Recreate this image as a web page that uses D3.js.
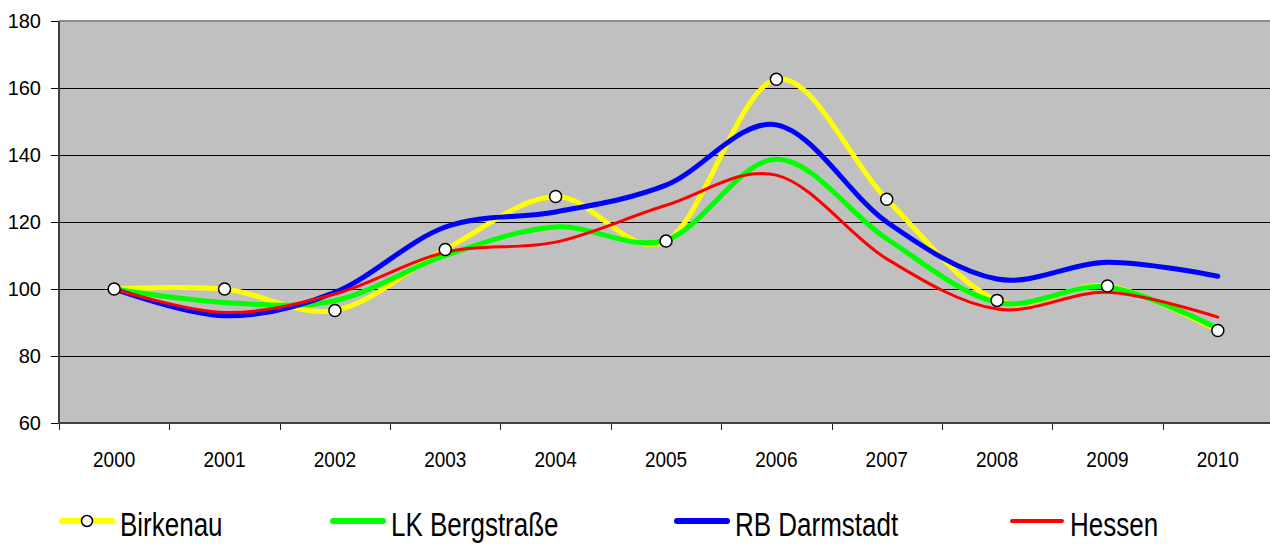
<!DOCTYPE html>
<html>
<head>
<meta charset="utf-8">
<script src="https://cdn.jsdelivr.net/npm/d3@7"></script>
<style>
  body { margin: 0; background: #fff; }
  text { font-family: "Liberation Sans", Arial, sans-serif; fill: #000; }
</style>
</head>
<body>
<script>
// daten
var years = ["2000", "2001", "2002", "2003", "2004", "2005", "2006", "2007", "2008", "2009", "2010"];
var birkenau = [100, 100, 93.6, 111.8, 127.6, 114.3, 162.6, 126.8, 96.6, 100.9, 87.6];
var lkBergstrasse = [100, 96, 96.5, 110, 118.5, 114.6, 138.7, 115, 96, 100.6, 88.2];
var rbDarmstadt = [100, 92, 99, 118.5, 123, 131, 149, 120, 103, 108, 103.8];
var hessen = [100, 93, 98.5, 111, 114, 125, 134, 109, 94, 99, 91.6];
var yTicks = [60, 80, 100, 120, 140, 160, 180];

var series = [
  { name: "Birkenau", values: birkenau, color: "#ffff00", width: 5, markers: true },
  { name: "LK Bergstraße", values: lkBergstrasse, color: "#00ff00", width: 5 },
  { name: "RB Darmstadt", values: rbDarmstadt, color: "#0000ff", width: 5 },
  { name: "Hessen", values: hessen, color: "#ff0000", width: 3 }
];

var pLeft = 59, pRight = 1273, pTop = 21, pBottom = 423;

var svg = d3.select("body").append("svg")
  .attr("width", 1270)
  .attr("height", 544);

// skalen
var xi = d3.scaleLinear().domain([0, years.length]).range([pLeft, pRight]);
var x = function (i) { return xi(i + 0.5); };
var y = d3.scaleLinear().domain([60, 180]).range([pBottom, pTop]);

// plotfläche
svg.append("rect")
  .attr("x", pLeft).attr("y", pTop)
  .attr("width", pRight - pLeft).attr("height", pBottom - pTop)
  .style("fill", "#c0c0c0");

// gitterlinien
svg.append("g").selectAll("line")
  .data(yTicks.filter(function (d) { return d > 60 && d < 180; }))
  .enter().append("line")
  .attr("x1", pLeft).attr("x2", pRight)
  .attr("y1", function (d) { return y(d); })
  .attr("y2", function (d) { return y(d); })
  .style("stroke", "#000").style("stroke-width", 1)
  .style("shape-rendering", "crispEdges");

// oberer rand
svg.append("line")
  .attr("x1", pLeft).attr("x2", pRight)
  .attr("y1", pTop).attr("y2", pTop)
  .style("stroke", "#8a8a8a").style("stroke-width", 2);

// y-achse
var yAxis = svg.append("g")
  .attr("transform", "translate(" + pLeft + ",0)")
  .call(d3.axisLeft(y).tickValues(yTicks).tickSize(8).tickPadding(10));
yAxis.select(".domain").remove();
yAxis.selectAll(".tick line").style("stroke", "#000").style("shape-rendering", "crispEdges");
yAxis.selectAll(".tick text")
  .style("font-size", "20px")
  .attr("font-family", null);

// x-achse (striche an den grenzen)
var xAxis = svg.append("g")
  .attr("transform", "translate(0," + pBottom + ")")
  .call(d3.axisBottom(xi).tickValues(d3.range(years.length + 1)).tickSize(7).tickFormat(""));
xAxis.select(".domain").remove();
xAxis.selectAll(".tick line").style("stroke", "#222").style("shape-rendering", "crispEdges");

svg.append("g").selectAll("text")
  .data(years)
  .enter().append("text")
  .attr("transform", function (d, i) { return "translate(" + x(i) + ",467) scale(1,1.2)"; })
  .attr("text-anchor", "middle")
  .style("font-size", "19px")
  .text(function (d) { return d; });

// achsenlinien
svg.append("line")
  .attr("x1", pLeft).attr("x2", pLeft)
  .attr("y1", pTop).attr("y2", pBottom + 1)
  .style("stroke", "#404040").style("stroke-width", 2);
svg.append("line")
  .attr("x1", pLeft - 1).attr("x2", pRight)
  .attr("y1", pBottom).attr("y2", pBottom)
  .style("stroke", "#404040").style("stroke-width", 2);

// linien
var line = d3.line()
  .x(function (d, i) { return x(i); })
  .y(function (d) { return y(d); })
  .curve(d3.curveCatmullRom.alpha(0));

svg.append("g").selectAll("path")
  .data(series)
  .enter().append("path")
  .attr("d", function (s) { return line(s.values); })
  .style("fill", "none")
  .style("stroke", function (s) { return s.color; })
  .style("stroke-width", function (s) { return s.width; })
  .style("stroke-linecap", "round")
  .style("stroke-linejoin", "round");

// marker
svg.append("g").selectAll("circle")
  .data(birkenau)
  .enter().append("circle")
  .attr("cx", function (d, i) { return x(i); })
  .attr("cy", function (d) { return y(d); })
  .attr("r", 6)
  .style("fill", "#fff")
  .style("stroke", "#000")
  .style("stroke-width", 1.5);

// legende
var legendX = [62, 333, 677, 1012];
var legend = svg.append("g").selectAll("g")
  .data(series)
  .enter().append("g")
  .attr("transform", function (d, i) { return "translate(" + legendX[i] + ",521)"; });

legend.append("line")
  .attr("x1", 0).attr("x2", 50)
  .attr("y1", 0).attr("y2", 0)
  .style("stroke", function (s) { return s.color; })
  .style("stroke-width", function (s) { return s.width + 1; })
  .style("stroke-linecap", "round");

legend.filter(function (s) { return s.markers; })
  .append("circle")
  .attr("cx", 25).attr("cy", 0).attr("r", 5.5)
  .style("fill", "#fff").style("stroke", "#000").style("stroke-width", 1.5);

legend.append("text")
  .attr("transform", "translate(58,15) scale(1,1.3)")
  .style("font-size", "26px")
  .text(function (s) { return s.name; });
</script>
</body>
</html>
